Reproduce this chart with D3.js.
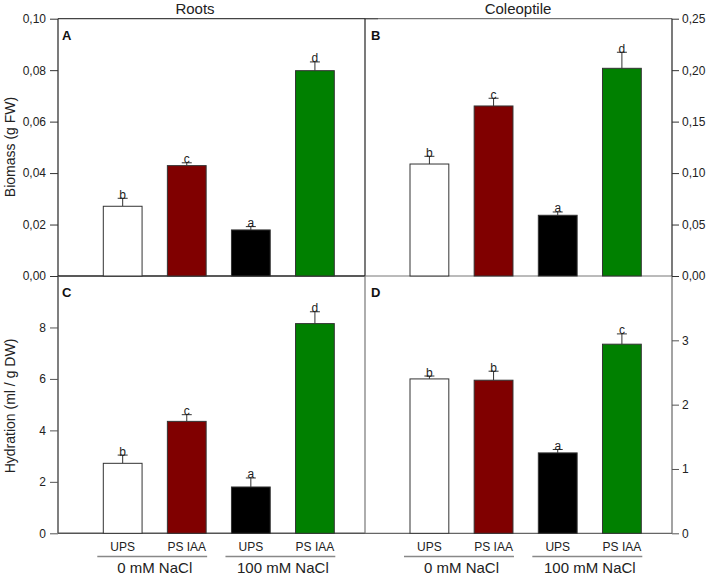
<!DOCTYPE html>
<html>
<head>
<meta charset="utf-8">
<script src="https://cdn.jsdelivr.net/npm/d3@7"></script>
<style>
  html, body { margin: 0; padding: 0; background: #fff; }
  svg { display: block; font-family: "Liberation Sans", Arial, sans-serif; }
</style>
</head>
<body>
<svg id="chart" width="708" height="576"></svg>
<script>
// ---------- DATA ----------
const categories = ["UPS", "PS IAA", "UPS", "PS IAA"];
const groups = ["0 mM NaCl", "100 mM NaCl"];
const columnTitles = ["Roots", "Coleoptile"];

const rootsBiomass = [0.0271, 0.0429, 0.0179, 0.0798];
const rootsBiomassErr = [0.0031, 0.0011, 0.0013, 0.0034];
const rootsBiomassLetters = ["b", "c", "a", "d"];

const coleoptileBiomass = [0.1088, 0.1652, 0.0590, 0.2018];
const coleoptileBiomassErr = [0.0075, 0.0075, 0.0032, 0.0156];
const coleoptileBiomassLetters = ["b", "c", "a", "d"];

const rootsHydration = [2.72, 4.35, 1.80, 8.15];
const rootsHydrationErr = [0.32, 0.26, 0.35, 0.46];
const rootsHydrationLetters = ["b", "c", "a", "d"];

const coleoptileHydration = [2.40, 2.38, 1.25, 2.94];
const coleoptileHydrationErr = [0.045, 0.14, 0.053, 0.16];
const coleoptileHydrationLetters = ["b", "b", "a", "c"];

const biomassTicks = [0, 0.02, 0.04, 0.06, 0.08, 0.10];
const coleoptileBiomassTicks = [0, 0.05, 0.10, 0.15, 0.20, 0.25];
const rootsHydrationTicks = [0, 2, 4, 6, 8];
const coleoptileHydrationTicks = [0, 1, 2, 3];

// ---------- STYLE ----------
const barColors = ["#ffffff", "#800000", "#000000", "#008000"];
const svg = d3.select("#chart");
const locale = d3.formatLocale({decimal: ",", thousands: ".", grouping: [3], currency: ["", ""]});
const fmt2 = locale.format(".2f");

const L = 58, M = 365, R = 672, T = 18.7, MID = 276, B = 533.3;

const xLeft = d3.scaleBand().domain(d3.range(4)).range([103.3, 334.3]).paddingInner(0.395).paddingOuter(0);
const xRight = d3.scaleBand().domain(d3.range(4)).range([410, 641.3]).paddingInner(0.395).paddingOuter(0);

const yA = d3.scaleLinear().domain([0, 0.10]).range([MID, T]);
const yB = d3.scaleLinear().domain([0, 0.25]).range([MID, T]);
const yC = d3.scaleLinear().domain([0, 10]).range([B, MID]);
const yD = d3.scaleLinear().domain([0, 4]).range([B, MID]);

function line(x1, y1, x2, y2, color, w) {
  svg.append("line").attr("x1", x1).attr("y1", y1).attr("x2", x2).attr("y2", y2)
    .attr("stroke", color).attr("stroke-width", w || 1);
}

function bars(x, y, vals, errs, letters) {
  const g = svg.append("g");
  vals.forEach((v, i) => {
    const x0 = x(i), w = x.bandwidth(), cx = x0 + w / 2;
    const top = y(v), et = y(v + errs[i]);
    g.append("line").attr("x1", cx).attr("x2", cx).attr("y1", top).attr("y2", et)
      .attr("stroke", "#333").attr("stroke-width", 1);
    g.append("line").attr("x1", cx - 5).attr("x2", cx + 5).attr("y1", et).attr("y2", et)
      .attr("stroke", "#333").attr("stroke-width", 1);
    g.append("rect").attr("x", x0).attr("y", top).attr("width", w).attr("height", y(0) - top)
      .attr("fill", barColors[i]).attr("stroke", "#333").attr("stroke-width", 1);
    g.append("text").attr("x", cx).attr("y", et + 0.5).attr("text-anchor", "middle")
      .attr("font-size", 12).attr("fill", "#222").text(letters[i]);
  });
}

function styleAxis(g, color) {
  g.select(".domain").remove();
  g.selectAll(".tick line").attr("stroke", color);
  g.selectAll(".tick text").attr("font-size", 12).attr("fill", "#222")
    .attr("font-family", "'Liberation Sans', Arial, sans-serif");
}

// Frames
// Panel A
line(L, T, 378, T, "#444", 1.2);
line(L, T, L, MID, "#222", 1.2);
line(L, MID, M, MID, "#222", 1.5);
// Panel B
line(M, T, R, T, "#555", 1);
line(M, T, M, MID, "#222", 1.2);
line(M, MID, R, MID, "#777", 1);
line(R, T, R, MID, "#222", 1.2);
// Panel C
line(L, MID, L, B, "#555", 1.5);
line(L, B, M, B, "#555", 1.5);
// Panel D
line(M, MID, M, B, "#777", 1.2);
line(M, B, R, B, "#666", 1.2);
line(R, MID, R, B, "#666", 1.2);

// Axes
const gA = svg.append("g").attr("transform", `translate(${L},0)`)
  .call(d3.axisLeft(yA).tickValues(biomassTicks).tickFormat(fmt2).tickSize(8).tickPadding(4));
styleAxis(gA, "#333");
const gB = svg.append("g").attr("transform", `translate(${R},0)`)
  .call(d3.axisRight(yB).tickValues(coleoptileBiomassTicks).tickFormat(fmt2).tickSize(7).tickPadding(3));
styleAxis(gB, "#333");
const gC = svg.append("g").attr("transform", `translate(${L},0)`)
  .call(d3.axisLeft(yC).tickValues(rootsHydrationTicks).tickFormat(d3.format("d")).tickSize(8).tickPadding(4));
styleAxis(gC, "#555");
const gD = svg.append("g").attr("transform", `translate(${R},0)`)
  .call(d3.axisRight(yD).tickValues(coleoptileHydrationTicks).tickFormat(d3.format("d")).tickSize(7).tickPadding(3));
styleAxis(gD, "#555");

// Bars
bars(xLeft, yA, rootsBiomass, rootsBiomassErr, rootsBiomassLetters);
bars(xRight, yB, coleoptileBiomass, coleoptileBiomassErr, coleoptileBiomassLetters);
bars(xLeft, yC, rootsHydration, rootsHydrationErr, rootsHydrationLetters);
bars(xRight, yD, coleoptileHydration, coleoptileHydrationErr, coleoptileHydrationLetters);

// Panel letters
[["A", 62, 40], ["B", 371, 40], ["C", 62, 297], ["D", 371, 297]].forEach(([t, x, y]) => {
  svg.append("text").attr("x", x).attr("y", y).attr("font-size", 13).attr("font-weight", "bold")
    .attr("fill", "#111").text(t);
});

// Column titles
svg.append("text").attr("x", 195).attr("y", 14).attr("text-anchor", "middle").attr("font-size", 15)
  .attr("fill", "#222").text(columnTitles[0]);
svg.append("text").attr("x", 518).attr("y", 14).attr("text-anchor", "middle").attr("font-size", 15)
  .attr("fill", "#222").text(columnTitles[1]);

// Y labels
svg.append("text").attr("transform", "translate(15,147) rotate(-90)").attr("text-anchor", "middle")
  .attr("font-size", 14).attr("fill", "#222").text("Biomass (g FW)");
svg.append("text").attr("transform", "translate(15,406) rotate(-90)").attr("text-anchor", "middle")
  .attr("font-size", 14).attr("fill", "#222").text("Hydration (ml / g DW)");

// X category + group labels
[xLeft, xRight].forEach(x => {
  categories.forEach((c, i) => {
    svg.append("text").attr("x", x(i) + x.bandwidth() / 2).attr("y", 551).attr("text-anchor", "middle")
      .attr("font-size", 12).attr("fill", "#222").text(c);
  });
  groups.forEach((gname, gi) => {
    const a = x(gi * 2), b = x(gi * 2 + 1) + x.bandwidth();
    line(a - 6, 556.5, b + 1, 556.5, "#888", 1.5);
    svg.append("text").attr("x", (a + b) / 2).attr("y", 573).attr("text-anchor", "middle")
      .attr("font-size", 15).attr("fill", "#222").text(gname);
  });
});
</script>
</body>
</html>
